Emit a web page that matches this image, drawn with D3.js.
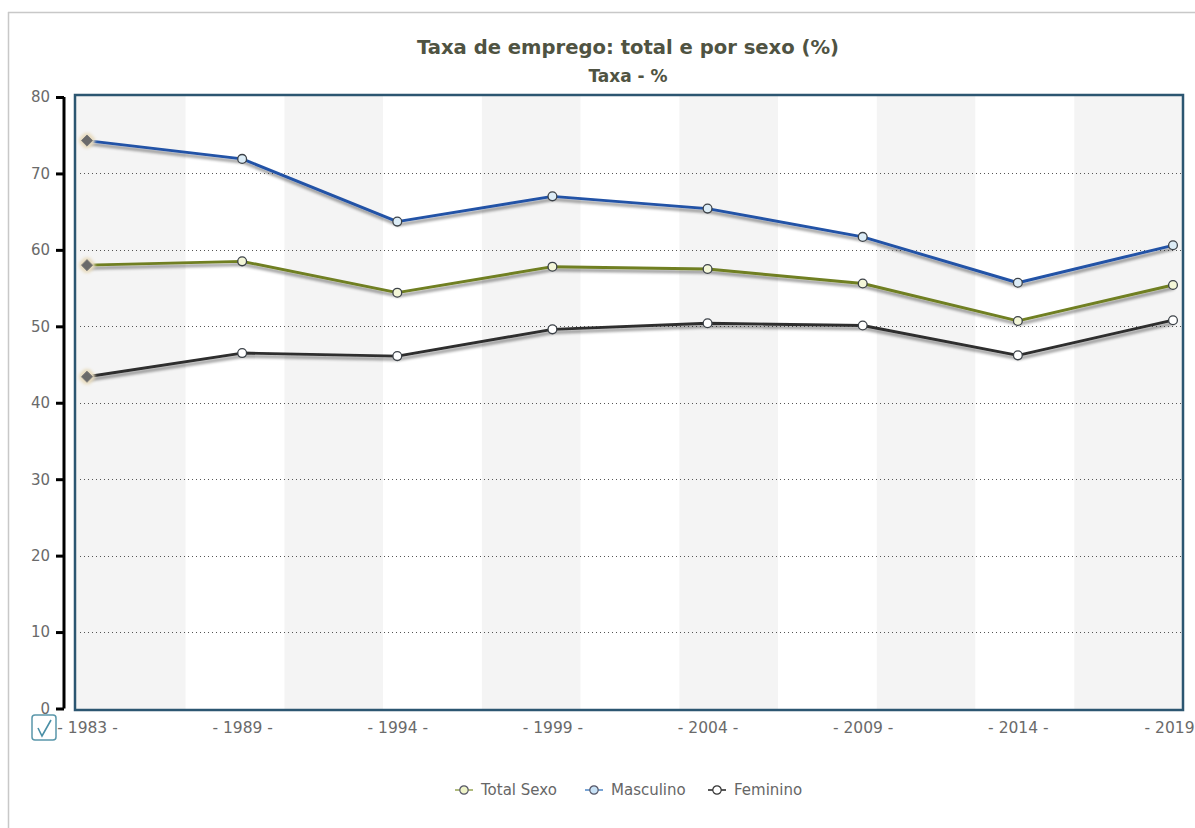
<!DOCTYPE html>
<html>
<head>
<meta charset="utf-8">
<script src="https://cdn.jsdelivr.net/npm/d3@7"></script>
<style>
  html, body { margin: 0; padding: 0; background: #fff; }
  svg { display: block; font-family: "DejaVu Sans", Verdana, sans-serif; }
</style>
</head>
<body>
<svg id="chart" width="1195" height="828"></svg>
<script>
// Employment rate, total and by sex (%)
const years = ["1983", "1989", "1994", "1999", "2004", "2009", "2014", "2019"];
const totalSexo  = [58.0, 58.5, 54.4, 57.8, 57.5, 55.6, 50.7, 55.4];
const masculino  = [74.3, 71.9, 63.7, 67.0, 65.4, 61.7, 55.7, 60.6];
const feminino   = [43.4, 46.5, 46.1, 49.6, 50.4, 50.1, 46.2, 50.8];
const yTicks = [0, 10, 20, 30, 40, 50, 60, 70, 80];
const seriesNames = ["Total Sexo", "Masculino", "Feminino"];

const series = [
  { name: seriesNames[0], values: totalSexo, stroke: "#6f7f22", dot: "#f3f6d8", legendDot: "#eef3c8", legendLine: "#a8b470" },
  { name: seriesNames[1], values: masculino, stroke: "#2352a6", dot: "#dcecf6", legendDot: "#c8e2f6", legendLine: "#6a9ad0" },
  { name: seriesNames[2], values: feminino,  stroke: "#2e2e2e", dot: "#ffffff", legendDot: "#ffffff", legendLine: "#444" }
];

const svg = d3.select("#chart");
const box = { left: 75, top: 95, right: 1183, bottom: 710 };

// shadow for the series lines
const defs = svg.append("defs");
const sh = defs.append("filter").attr("id", "lineShadow")
  .attr("x", "-5%").attr("y", "-20%").attr("width", "110%").attr("height", "160%");
sh.append("feGaussianBlur").attr("in", "SourceAlpha").attr("stdDeviation", 1.8).attr("result", "b");
sh.append("feOffset").attr("in", "b").attr("dx", 1).attr("dy", 3).attr("result", "o");
sh.append("feComponentTransfer").attr("in", "o").attr("result", "s")
  .append("feFuncA").attr("type", "linear").attr("slope", 0.45);
const m1 = sh.append("feMerge");
m1.append("feMergeNode").attr("in", "s");
m1.append("feMergeNode").attr("in", "SourceGraphic");

const glow = defs.append("filter").attr("id", "halo")
  .attr("x", "-60%").attr("y", "-60%").attr("width", "220%").attr("height", "220%");
glow.append("feMorphology").attr("in", "SourceAlpha").attr("operator", "dilate").attr("radius", 2).attr("result", "d");
glow.append("feGaussianBlur").attr("in", "d").attr("stdDeviation", 1.5).attr("result", "g");
glow.append("feFlood").attr("flood-color", "#e8dcc0").attr("result", "c");
glow.append("feComposite").attr("in", "c").attr("in2", "g").attr("operator", "in").attr("result", "h");
const m2 = glow.append("feMerge");
m2.append("feMergeNode").attr("in", "h");
m2.append("feMergeNode").attr("in", "SourceGraphic");

// outer frame
svg.append("line").attr("x1", 8).attr("x2", 1195).attr("y1", 12.5).attr("y2", 12.5)
  .attr("stroke", "#c8c8c8").attr("stroke-width", 1.5);
svg.append("line").attr("x1", 8.5).attr("x2", 8.5).attr("y1", 12).attr("y2", 828)
  .attr("stroke", "#c8c8c8").attr("stroke-width", 1.5);

// scales
const x = d3.scalePoint().domain(years).range([box.left + 12, box.right - 10]);
const y = d3.scaleLinear().domain([0, 80]).range([708.5, 97]);
// alternating stripes spread over the category span, outer ones run to the frame
const bands = d3.scaleBand().domain(d3.range(11)).range(x.range());

// title
svg.append("text").attr("x", 628).attr("y", 54).attr("text-anchor", "middle")
  .attr("font-weight", "bold").attr("font-size", 19.6).attr("fill", "#4f5342")
  .text("Taxa de emprego: total e por sexo (%)");
svg.append("text").attr("x", 628).attr("y", 82).attr("text-anchor", "middle")
  .attr("font-weight", "bold").attr("font-size", 17).attr("fill", "#4f5342")
  .text("Taxa - %");

// plot background stripes
const last = bands.domain().length - 1;
svg.append("g").selectAll("rect").data(bands.domain()).join("rect")
  .attr("x", d => d === 0 ? box.left : bands(d))
  .attr("y", box.top)
  .attr("width", d => d === 0 ? bands(1) - box.left : d === last ? box.right - bands(d) : bands.bandwidth())
  .attr("height", box.bottom - box.top)
  .attr("fill", d => d % 2 === 0 ? "#f4f4f4" : "#ffffff");

// dotted grid
svg.append("g").selectAll("line").data(yTicks.filter(t => t > 0 && t < 80)).join("line")
  .attr("x1", box.left + 5).attr("x2", box.right - 2)
  .attr("y1", d => Math.round(y(d)) + 0.5).attr("y2", d => Math.round(y(d)) + 0.5)
  .attr("stroke", "#555").attr("stroke-width", 1).attr("stroke-dasharray", "1,3");

// plot frame
svg.append("rect").attr("x", box.left).attr("y", box.top)
  .attr("width", box.right - box.left).attr("height", box.bottom - box.top)
  .attr("fill", "none").attr("stroke", "#2c5671").attr("stroke-width", 2.5);

// y axis
const yAxis = d3.axisLeft(y).tickValues(yTicks).tickSize(8).tickPadding(6);
const gy = svg.append("g").attr("transform", "translate(64,0)").call(yAxis);
gy.select(".domain").attr("stroke", "#000").attr("stroke-width", 3)
  .attr("d", `M0,${y(80)}V${y(0)}`);
gy.selectAll(".tick line").attr("stroke", "#000").attr("stroke-width", 3);
gy.selectAll(".tick text").attr("font-size", 15).attr("fill", "#6a6a6a")
  .attr("font-family", "DejaVu Sans, Verdana, sans-serif");

// x axis labels
const lastYear = years[years.length - 1];
const xAxis = d3.axisBottom(x).tickSize(0).tickPadding(0)
  .tickFormat(d => d === lastYear ? "- " + d : "- " + d + " -");
const gx = svg.append("g").attr("transform", "translate(0,722)").call(xAxis);
gx.select(".domain").remove();
gx.selectAll(".tick text").attr("font-size", 15.5).attr("fill", "#6a6a6a")
  .attr("font-family", "DejaVu Sans, Verdana, sans-serif");
// the final label sits against the right edge
gx.selectAll(".tick").filter(d => d === lastYear).select("text")
  .attr("text-anchor", "end").attr("dx", 21);

// checkbox icon at the axis corner
const cb = svg.append("g").attr("transform", "translate(32,715)");
cb.append("rect").attr("width", 24).attr("height", 25).attr("rx", 3)
  .attr("fill", "#fff").attr("stroke", "#5a97aa").attr("stroke-width", 1.5);
cb.append("path").attr("d", "M6,13 L10,21 L19,5").attr("fill", "none")
  .attr("stroke", "#4a8fa6").attr("stroke-width", 1.6);

// series lines
const line = d3.line().x((d, i) => x(years[i])).y(d => y(d));
const gs = svg.append("g");
series.forEach(s => {
  gs.append("path").datum(s.values).attr("d", line)
    .attr("fill", "none").attr("stroke", s.stroke).attr("stroke-width", 2.9)
    .attr("stroke-linejoin", "round").attr("filter", "url(#lineShadow)");
});

// point markers (first year highlighted as diamond)
series.forEach(s => {
  gs.append("g").selectAll("circle").data(s.values.slice(1)).join("circle")
    .attr("cx", (d, i) => x(years[i + 1])).attr("cy", d => y(d)).attr("r", 4.4)
    .attr("fill", s.dot).attr("stroke", "#3c4248").attr("stroke-width", 1.3);
  gs.append("path").attr("d", d3.symbol(d3.symbolDiamond2, 80)())
    .attr("transform", `translate(${x(years[0])},${y(s.values[0])})`)
    .attr("fill", "#6a6a6a").attr("stroke", "#777").attr("stroke-width", 1)
    .attr("filter", "url(#halo)");
});

// legend
const legendX = [455, 585, 708];
const lg = svg.append("g").attr("transform", "translate(0,790)");
series.forEach((s, i) => {
  const g = lg.append("g").attr("transform", `translate(${legendX[i]},0)`);
  g.append("line").attr("x1", 0).attr("x2", 18).attr("y1", 0).attr("y2", 0)
    .attr("stroke", s.legendLine).attr("stroke-width", 1.8);
  g.append("circle").attr("cx", 9).attr("cy", 0).attr("r", 4.2)
    .attr("fill", s.legendDot).attr("stroke", s.legendLine === "#444" ? "#333" : "#556").attr("stroke-width", 1.2);
  g.append("text").attr("x", 26).attr("y", 0).attr("dy", "0.35em")
    .attr("font-size", 15).attr("fill", "#666").text(s.name);
});
</script>
</body>
</html>
